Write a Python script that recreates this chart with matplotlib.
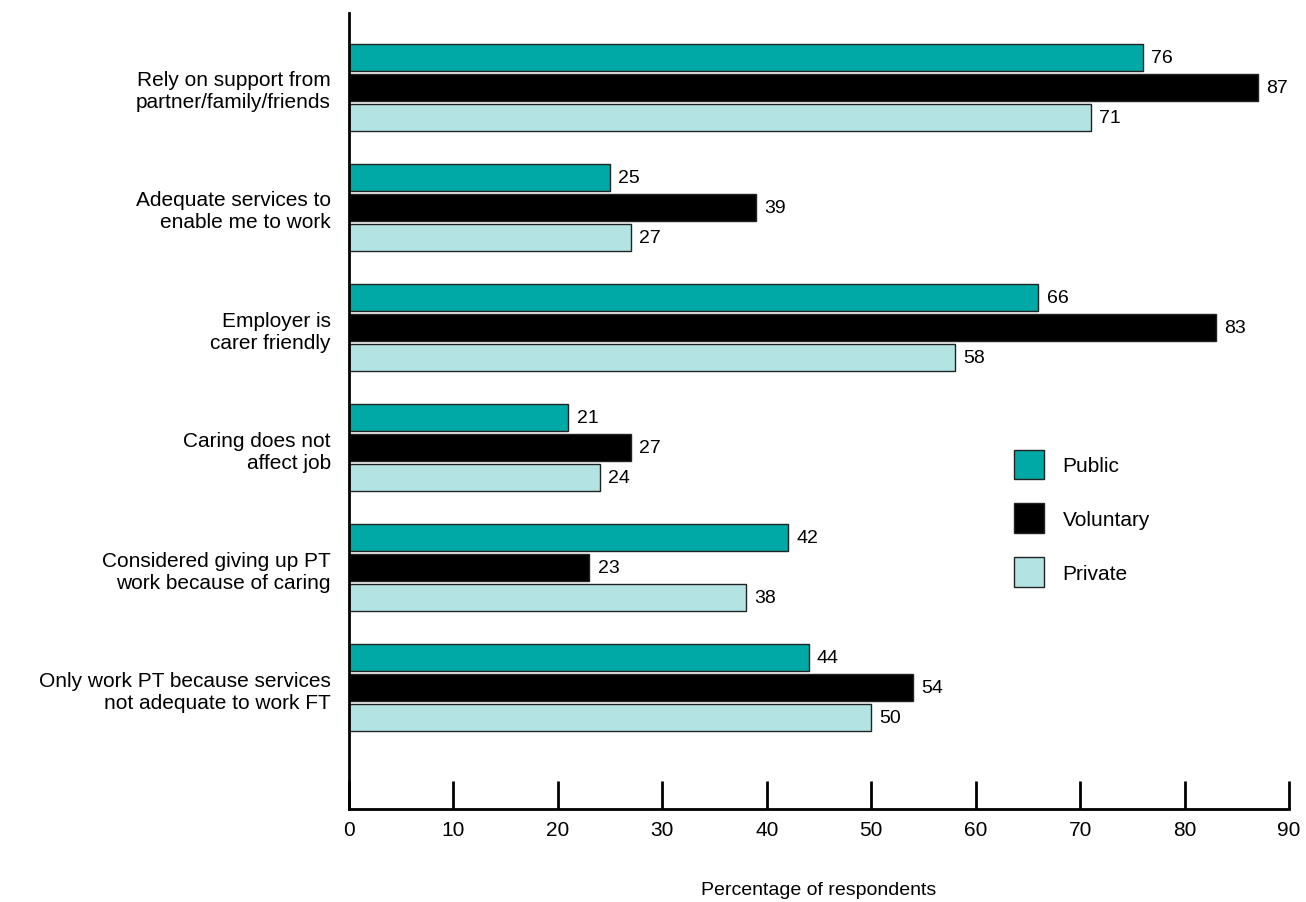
import matplotlib.pyplot as plt
import numpy as np

categories = ['Rely on support from\npartner/family/friends',
              'Adequate services to\nenable me to work',
              'Employer is\ncarer friendly',
              'Caring does not\naffect job',
              'Considered giving up PT\nwork because of caring',
              'Only work PT because services\nnot adequate to work FT']
public = [76, 25, 66, 21, 42, 44]
voluntary = [87, 39, 83, 27, 23, 54]
private = [71, 27, 58, 24, 38, 50]
series = ['Public', 'Voluntary', 'Private']
colors = ['#00A8A6', '#000000', '#B3E3E3']

plt.rcParams['font.family'] = ['Liberation Sans', 'DejaVu Sans']

fig = plt.figure(figsize=(13.06, 9.03), dpi=100)
ax = fig.add_axes([0.2672, 0.103, 0.7198, 0.8815])

y = np.arange(len(categories))
h = 0.225
step = 0.25
for i, (vals, name, c) in enumerate(zip([public, voluntary, private], series, colors)):
    pos = y + (i - 1) * step
    bars = ax.barh(pos, vals, height=h, color=c, edgecolor='#222222', linewidth=1, label=name)
    for b, v in zip(bars, vals):
        ax.text(v + 0.8, b.get_y() + h / 2, str(v), va='center', ha='left', fontsize=14)

ax.set_xlim(0, 90)
ax.set_ylim(len(categories) - 1 + 1.01, -0.62)
ax.set_xticks(range(0, 91, 10))
ax.set_yticks(y)
ax.set_yticklabels(categories, fontsize=15, ha='right', linespacing=1.2)
ax.tick_params(axis='y', length=0, pad=13)
ax.tick_params(axis='x', direction='in', length=20, width=2, labelsize=15, pad=8)
for s in ['top', 'right']:
    ax.spines[s].set_visible(False)
ax.spines['left'].set_linewidth(2)
ax.spines['bottom'].set_linewidth(2)
ax.set_xlabel('Percentage of respondents', fontsize=14, labelpad=30)

ax.legend(loc='upper left', bbox_to_anchor=(0.687, 0.475), frameon=False, fontsize=15,
          handlelength=1.45, handleheight=1.8, labelspacing=1.17, handletextpad=0.9)

fig.savefig('out.png', dpi=100)
